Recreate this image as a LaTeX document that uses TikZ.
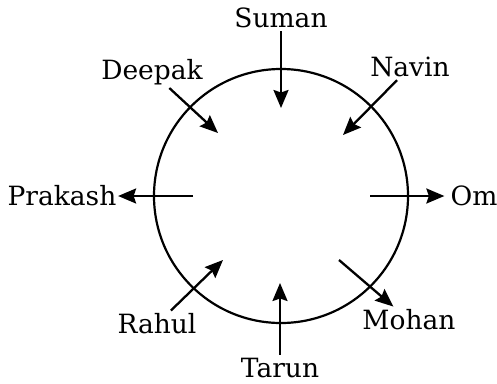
\documentclass[tikz,border=0pt]{standalone}
\usepackage{fontspec}
\setmainfont{DejaVu Serif}
\usetikzlibrary{arrows.meta}
\tikzset{
  person/.style = {inner sep=3pt, font=\fontsize{26.5}{30}\selectfont},
  ptr/.style    = {-{Stealth[length=18pt, width=15pt, inset=2.5pt]}, line width=2.3pt},
  ring/.style   = {line width=2.2pt},
}
\begin{document}
\begin{tikzpicture}[x=1pt, y=-1pt]
\useasboundingbox (0,0) rectangle (497,383);

\draw[ring] (281,196) circle[radius=127];

% people round the table
\node[person] (suman)   at (281,18)  {Suman};
\node[person] (navin)   at (410,67)  {Navin};
\node[person] (deepak)  at (152,72)  {Deepak};
\node[person, inner sep=1.5pt] (prakash) at (62,196) {Prakash};
\node[person, inner sep=6pt] (om) at (474,196) {Om};
\node[person] (mohan)   at (409,320) {Mohan};
\node[person] (tarun)   at (280,368) {Tarun};
\node[person] (rahul)   at (157,324) {Rahul};

% inner ends of the arrows
\coordinate (s-in) at (281,108);
\coordinate (n-in) at (343,135);
\coordinate (d-in) at (218,133);
\coordinate (p-in) at (193,196);
\coordinate (o-in) at (370,196);
\coordinate (m-in) at (339,260);
\coordinate (t-in) at (280,283);
\coordinate (r-in) at (223,260);

% facing the centre
\foreach \a/\b in {suman/s-in, navin/n-in, deepak/d-in, tarun/t-in, rahul/r-in}
  \draw[ptr] (\a) -- (\b);
% facing outwards
\foreach \a/\b in {p-in/prakash, o-in/om, m-in/mohan}
  \draw[ptr] (\a) -- (\b);

\end{tikzpicture}
\end{document}
